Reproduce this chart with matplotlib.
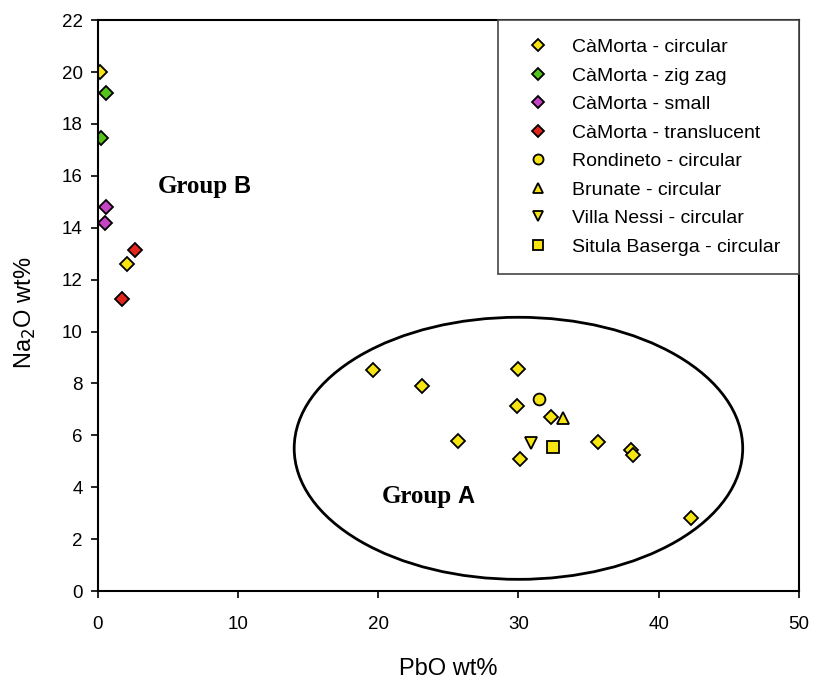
import matplotlib.pyplot as plt
from matplotlib.patches import Ellipse

# PbO wt% / Na2O wt%, one list pair per series
camorta_circ_x = [0.15, 2.1, 19.6, 23.1, 30.0, 29.9, 32.3, 25.7, 35.7, 38.0, 38.2, 30.1, 42.3]
camorta_circ_y = [20.0, 12.6, 8.5, 7.9, 8.55, 7.15, 6.7, 5.8, 5.75, 5.45, 5.25, 5.1, 2.8]
camorta_zig_x = [0.55, 0.2]
camorta_zig_y = [19.2, 17.45]
camorta_small_x = [0.55, 0.5]
camorta_small_y = [14.8, 14.2]
camorta_transl_x = [2.65, 1.75]
camorta_transl_y = [13.15, 11.25]
rondineto_x, rondineto_y = [31.5], [7.4]
brunate_x, brunate_y = [33.2], [6.65]
villa_x, villa_y = [30.9], [5.7]
situla_x, situla_y = [32.5], [5.55]

plt.rcParams['font.family'] = ['Liberation Sans', 'DejaVu Sans']

fig = plt.figure(figsize=(8.13, 6.82), dpi=100)
ax = fig.add_axes([0.1205, 0.1334, 0.862, 0.837])

yellow = '#F7E413'
kw = dict(linestyle='none', markeredgecolor='black', markeredgewidth=1.3)
ax.plot(camorta_circ_x, camorta_circ_y, 'D', color=yellow, markersize=7.5, label='CàMorta - circular', **kw)
ax.plot(camorta_zig_x, camorta_zig_y, 'D', color='#56C21C', markersize=7.5, label='CàMorta - zig zag', **kw)
ax.plot(camorta_small_x, camorta_small_y, 'D', color='#C444C4', markersize=7.5, label='CàMorta - small', **kw)
ax.plot(camorta_transl_x, camorta_transl_y, 'D', color='#E2261E', markersize=7.5, label='CàMorta - translucent', **kw)
ax.plot(rondineto_x, rondineto_y, 'o', color=yellow, markersize=8.5, label='Rondineto - circular', **kw)
ax.plot(brunate_x, brunate_y, '^', color=yellow, markersize=9, label='Brunate - circular', **kw)
ax.plot(villa_x, villa_y, 'v', color=yellow, markersize=9, label='Villa Nessi - circular', **kw)
ax.plot(situla_x, situla_y, 's', color=yellow, markersize=8, label='Situla Baserga - circular', **kw)

ax.add_patch(Ellipse((30.0, 5.5), 32.0, 10.1, fill=False, edgecolor='black', linewidth=2))

# "Group" in a serif face, the letter in a sans face, as in the original
for gx, gy, letter in [(4.28, 15.34, 'B'), (20.26, 3.39, 'A')]:
    t = ax.text(gx, gy, 'Group', family='Liberation Serif', fontweight='bold',
                fontsize=18, ha='left', va='baseline')
    ax.annotate(letter, xy=(1, 0), xycoords=t, xytext=(4, 0), textcoords='offset points',
                fontweight='bold', fontsize=17, ha='left', va='bottom')

ax.set_xlim(0, 50)
ax.set_ylim(0, 22)
ax.set_xticks(range(0, 51, 10))
ax.set_yticks(range(0, 23, 2))
ax.tick_params(direction='out', length=5, width=1.2, labelsize=13.5)
ax.tick_params(axis='x', pad=13)
ax.tick_params(axis='y', pad=6)
for s in ax.spines.values():
    s.set_linewidth(1.5)

ax.set_xlabel('PbO wt%', fontsize=17, labelpad=18)
ax.set_ylabel('Na$_2$O wt%', fontsize=17)
ax.yaxis.set_label_coords(-0.085, 0.487)

leg = ax.legend(loc='upper right', borderaxespad=0, fancybox=False, fontsize=14,
                markerscale=0.85, handletextpad=0.65, labelspacing=0.56,
                borderpad=0.95, handlelength=2.2, framealpha=1)
leg.get_frame().set_edgecolor('#444444')
leg.get_frame().set_linewidth(1.2)

fig.savefig('out.png', dpi=100)
